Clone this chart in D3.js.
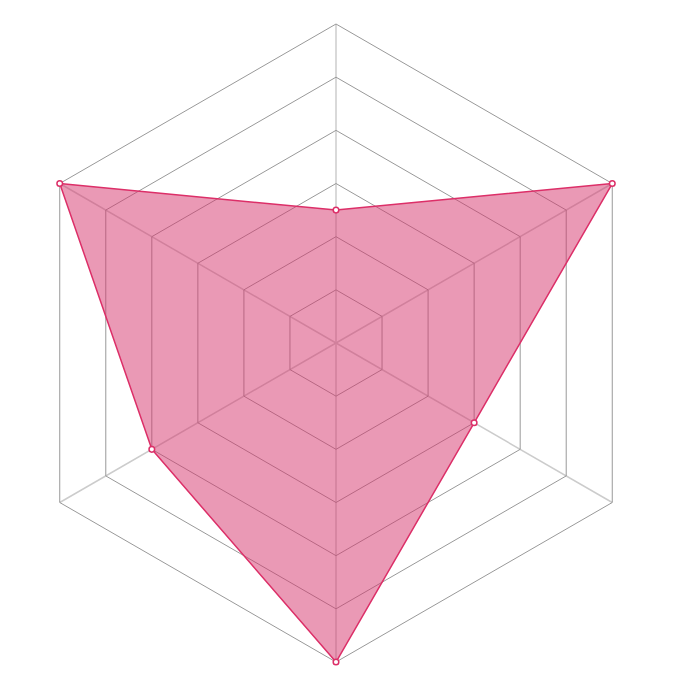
<!DOCTYPE html>
<html>
<head>
<meta charset="utf-8">
<script src="https://cdn.jsdelivr.net/npm/d3@7"></script>
<style>
  html, body { margin: 0; padding: 0; background: #fff; }
  svg { display: block; }
</style>
</head>
<body>
<svg id="chart" width="688" height="688"></svg>
<script>
// axes, clockwise from the top
var axes = ["A", "B", "C", "D", "E", "F"];
var values = [2.5, 6, 3, 6, 4, 6];
var levels = [1, 2, 3, 4, 5, 6];
var maxValue = 6;

var cx = 336, cy = 343, radius = 319;

var svg = d3.select("#chart");
var g = svg.append("g").attr("transform", "translate(" + cx + "," + cy + ")");

var r = d3.scaleLinear().domain([0, maxValue]).range([0, radius]);
var angle = d3.scaleLinear().domain([0, axes.length]).range([0, 2 * Math.PI]);

function pt(i, v) {
  var a = angle(i);
  return [r(v) * Math.sin(a), -r(v) * Math.cos(a)];
}

// axis spokes
g.selectAll(".axis")
  .data(axes)
  .enter().append("line")
  .attr("class", "axis")
  .attr("x1", 0).attr("y1", 0)
  .attr("x2", function(d, i) { return pt(i, maxValue)[0]; })
  .attr("y2", function(d, i) { return pt(i, maxValue)[1]; })
  .attr("stroke", "#cccccc")
  .attr("stroke-width", 1.5);

// hexagon rings
var ringLine = d3.line().curve(d3.curveLinearClosed);
g.selectAll(".ring")
  .data(levels)
  .enter().append("path")
  .attr("class", "ring")
  .attr("d", function(lv) { return ringLine(axes.map(function(d, i) { return pt(i, lv); })); })
  .attr("fill", "none")
  .attr("stroke", "#999999")
  .attr("stroke-width", 1);

// data area
var areaPts = values.map(function(v, i) { return pt(i, v); });
g.append("path")
  .attr("d", ringLine(areaPts))
  .attr("fill", "#d6336c")
  .attr("fill-opacity", 0.5)
  .attr("stroke", "#dc2f68")
  .attr("stroke-width", 1.5)
  .attr("stroke-linejoin", "round");

// points
g.selectAll(".dot")
  .data(values)
  .enter().append("circle")
  .attr("class", "dot")
  .attr("cx", function(v, i) { return pt(i, v)[0]; })
  .attr("cy", function(v, i) { return pt(i, v)[1]; })
  .attr("r", 2.8)
  .attr("fill", "#fff")
  .attr("stroke", "#dc2f68")
  .attr("stroke-width", 1.5);
</script>
</body>
</html>
